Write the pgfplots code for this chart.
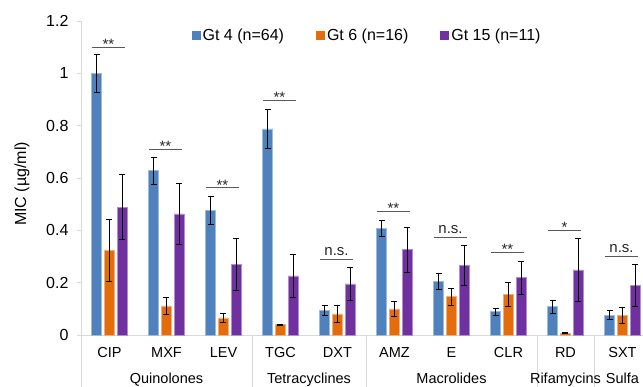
\documentclass[border=0pt]{standalone}
\usepackage{pgfplots}
\pgfplotsset{compat=1.18}
\usepackage{pgfplotstable}
\usepackage{fontspec}
\setmainfont{Liberation Sans}
\definecolor{gblue}{HTML}{4F81BD}
\definecolor{gorange}{HTML}{E46C0A}
\definecolor{gpurple}{HTML}{7030A0}
\definecolor{axgray}{HTML}{D9D9D9}

\pgfplotstableread{
x y e
0 1.000 0.072
1 0.628 0.051
2 0.477 0.054
3 0.788 0.075
4 0.094 0.018
5 0.407 0.030
6 0.205 0.030
7 0.089 0.014
8 0.108 0.025
9 0.076 0.018
}\gtfour
\pgfplotstableread{
x y e
0 0.323 0.117
1 0.111 0.033
2 0.065 0.018
3 0.039 0.003
4 0.081 0.032
5 0.100 0.030
6 0.146 0.032
7 0.155 0.047
8 0.007 0.002
9 0.076 0.030
}\gtsix
\pgfplotstableread{
x y e
0 0.489 0.123
1 0.463 0.117
2 0.271 0.100
3 0.226 0.082
4 0.195 0.063
5 0.326 0.085
6 0.267 0.077
7 0.219 0.062
8 0.249 0.119
9 0.191 0.080
}\gtfifteen
\pgfplotstableread{
x y
-0.300 1.098
0.265 1.098
nan nan
0.700 0.710
1.265 0.710
nan nan
1.700 0.562
2.265 0.562
nan nan
2.700 0.895
3.265 0.895
nan nan
3.700 0.290
4.265 0.290
nan nan
4.700 0.471
5.265 0.471
nan nan
5.700 0.373
6.265 0.373
nan nan
6.700 0.314
7.265 0.314
nan nan
7.700 0.401
8.265 0.401
nan nan
8.700 0.300
9.265 0.300
}\siglines
\pgfplotstableread{
x y t
-0.0175 1.090 **
0.9825 0.702 **
1.9825 0.554 **
2.9825 0.887 **
3.9825 0.305 n.s.
4.9825 0.463 **
5.9825 0.388 n.s.
6.9825 0.306 **
7.9825 0.393 *
8.9825 0.315 n.s.
}\sigtext

\begin{document}
\begin{tikzpicture}
\useasboundingbox (0,0) rectangle (643pt,387pt);
\clip (0,0) rectangle (643pt,387pt);
\begin{axis}[
  at={(81pt,52pt)}, anchor=south west,
  scale only axis, width=562pt, height=314pt,
  xmin=-0.5, xmax=9.36, ymin=0, ymax=1.2,
  clip=false,
  axis x line*=bottom, axis y line*=left,
  axis line style={axgray, line width=0.8pt},
  xtick={0,...,9},
  xticklabels={CIP,MXF,LEV,TGC,DXT,AMZ,E,CLR,RD,SXT},
  ytick={0,0.2,0.4,0.6,0.8,1,1.2},
  tick align=outside, major tick length=4pt,
  x tick style={draw=none},
  y tick style={axgray, line width=0.8pt},
  /pgf/number format/assume math mode=true,
  yticklabel style={font=\fontsize{16}{19}\selectfont, xshift=-5pt},
  xticklabel style={font=\fontsize{14.5}{17}\selectfont, anchor=base, yshift=-18.5pt},
  ylabel={MIC (µg/ml)},
  ylabel style={at={([xshift=-59pt]axis description cs:0,0.481)}, anchor=center, font=\fontsize{16}{19}\selectfont},
  legend columns=3,
  legend style={at={(axis description cs:0.509,0.955)}, anchor=center, draw=none, fill=none,
    font=\fontsize{16}{19}\selectfont, nodes={inner xsep=2pt},
    /tikz/every even column/.append style={column sep=30pt}},
  legend image code/.code={\path[#1,draw=none] (0pt,-4.5pt) rectangle (9pt,4.5pt);},
  bar width=10pt,
  error bars/error bar style={black, line width=0.8pt},
  error bars/error mark options={rotate=90, mark size=3pt, line width=0.8pt, black},
]
\addplot[ybar, bar shift=0pt, fill=gblue, draw=gblue!55!white, line width=0.6pt,
  error bars/.cd, y dir=both, y explicit]
  table[x expr=\thisrow{x}-0.2228, y=y, y error=e] \gtfour;
\addlegendentry{Gt 4 (n=64)}
\addplot[ybar, bar shift=0pt, fill=gorange, draw=gorange!55!white, line width=0.6pt,
  error bars/.cd, y dir=both, y explicit]
  table[x=x, y=y, y error=e] \gtsix;
\addlegendentry{Gt 6 (n=16)}
\addplot[ybar, bar shift=0pt, fill=gpurple, draw=gpurple!55!white, line width=0.6pt,
  error bars/.cd, y dir=both, y explicit]
  table[x expr=\thisrow{x}+0.2228, y=y, y error=e] \gtfifteen;
\addlegendentry{Gt 15 (n=11)}
\addplot[forget plot, sharp plot, no marks, black!65, line width=1pt, unbounded coords=jump]
  table[x=x, y=y] \siglines;
\addplot[forget plot, only marks, mark=none, nodes near coords, point meta=explicit symbolic,
  nodes near coords style={anchor=base, font=\fontsize{15}{18}\selectfont, text=black!85}]
  table[x=x, y=y, meta=t] \sigtext;
\draw[axgray, line width=0.8pt] (axis cs:-0.5,0) -- ++(0pt,-60pt);
\draw[axgray, line width=0.8pt] (axis cs:2.5,0) -- ++(0pt,-60pt);
\draw[axgray, line width=0.8pt] (axis cs:4.5,0) -- ++(0pt,-60pt);
\draw[axgray, line width=0.8pt] (axis cs:7.5,0) -- ++(0pt,-60pt);
\draw[axgray, line width=0.8pt] (axis cs:8.5,0) -- ++(0pt,-60pt);
\begin{scope}[every node/.style={anchor=base, font=\fontsize{14.5}{17}\selectfont}]
\node[yshift=-48.5pt] at (axis cs:1,0) {Quinolones};
\node[yshift=-48.5pt] at (axis cs:3.5,0) {Tetracyclines};
\node[yshift=-48.5pt] at (axis cs:6,0) {Macrolides};
\node[yshift=-48.5pt] at (axis cs:8,0) {Rifamycins};
\node[yshift=-48.5pt] at (axis cs:9,0) {Sulfa};
\end{scope}
\end{axis}
\end{tikzpicture}
\end{document}
